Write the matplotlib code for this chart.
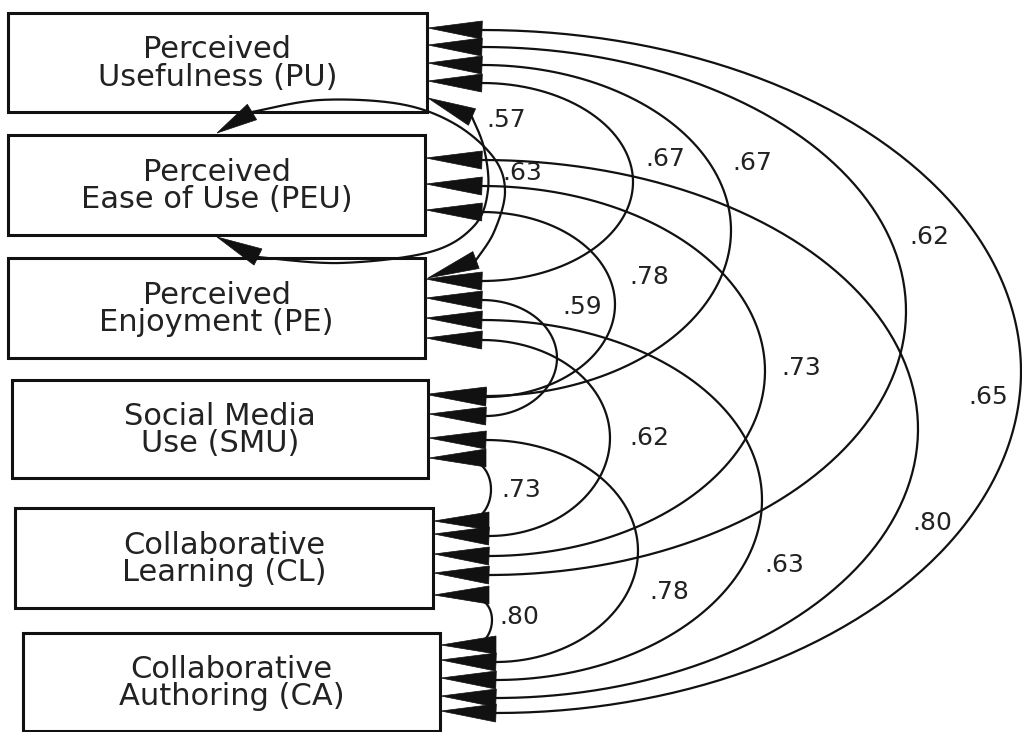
import numpy as np
import matplotlib
matplotlib.use("Agg")
import matplotlib.pyplot as plt
from matplotlib.patches import Rectangle, Polygon

# constructs, top to bottom
codes = ["PU", "PEU", "PE", "SMU", "CL", "CA"]
names = ["Perceived\nUsefulness (PU)",
         "Perceived\nEase of Use (PEU)",
         "Perceived\nEnjoyment (PE)",
         "Social Media\nUse (SMU)",
         "Collaborative\nLearning (CL)",
         "Collaborative\nAuthoring (CA)"]

# correlations
pair_a = ["PU", "PEU", "PU", "PU", "PU", "PU", "PEU", "PEU", "PEU", "PE", "PE", "PE", "SMU", "SMU", "CL"]
pair_b = ["PEU", "PE", "PE", "SMU", "CL", "CA", "SMU", "CL", "CA", "SMU", "CL", "CA", "CL", "CA", "CA"]
corr = [0.57, 0.63, 0.67, 0.67, 0.62, 0.65, 0.78, 0.73, 0.80, 0.59, 0.62, 0.63, 0.73, 0.78, 0.80]

# ---- layout (pixel coords, y down) ----
W, H = 1022, 732
box_x0 = [8, 8, 8, 12, 15, 23]
box_x1 = [427, 425, 425, 428, 433, 440]
box_y0 = [13, 135, 258, 380, 508, 633]
box_y1 = [112, 235, 358, 478, 608, 731]
base_x = [482, 482, 482, 486, 489, 496]   # where arrow bases sit

# per correlation: curve type, end slot y on a / b, rightmost x, label centre
kind = ["left", "left", "arc", "arc", "arc", "arc", "arc", "arc", "arc",
        "arc", "arc", "arc", "loop", "arc", "loop"]
slot_a = [None, None, 83, 65, 47, 30, 212, 186, 160, 300, 340, 320, 460, 440, 597]
slot_b = [None, None, 281, 396, 575, 713, 397, 556, 698, 416, 536, 680, 519, 662, 643]
peak_x = [None, None, 633, 731, 906, 1021, 615, 765, 918, 557, 610, 762, 491, 638, 492]
lab_x = [506, 522, 665, 752, 929, 988, 649, 801, 932, 582, 649, 784, 521, 669, 519]
lab_y = [120, 173, 159, 163, 237, 397, 277, 368, 523, 307, 438, 565, 490, 592, 617]

# hand drawn loops around PEU (waypoints) and their arrow tips
left_paths = [
    [(472, 117), (484, 148), (488, 190), (474, 226), (430, 252), (340, 263), (258, 257)],
    [(252, 112), (320, 100), (400, 104), (455, 124), (494, 158), (505, 192), (494, 232), (476, 260)],
]
left_tips = [((428, 98), (217, 237)), ((217, 133), (428, 278))]

LW = 1.6
INK = "#111111"


def spline(pts, n=30):
    # catmull-rom through the waypoints
    p = np.array(pts, float)
    p = np.vstack([p[0], p, p[-1]])
    out = []
    for i in range(1, len(p) - 2):
        p0, p1, p2, p3 = p[i - 1], p[i], p[i + 1], p[i + 2]
        t = np.linspace(0, 1, n)[:, None]
        seg = 0.5 * ((2 * p1) + (-p0 + p2) * t + (2 * p0 - 5 * p1 + 4 * p2 - p3) * t ** 2
                     + (-p0 + 3 * p1 - 3 * p2 + p3) * t ** 3)
        out.append(seg)
    return np.vstack(out)


def arrowhead(ax, tip, base, half=9):
    tip = np.array(tip, float)
    base = np.array(base, float)
    d = tip - base
    d = d / np.hypot(*d)
    nrm = np.array([-d[1], d[0]])
    poly = [tip, base + nrm * half, base - nrm * half]
    ax.add_patch(Polygon(poly, closed=True, facecolor=INK, edgecolor=INK, lw=0.5, zorder=5))


fig = plt.figure(figsize=(W / 100, H / 100), dpi=100)
ax = fig.add_axes([0, 0, 1, 1])
ax.set_xlim(0, W)
ax.set_ylim(H, 0)
ax.axis("off")

# boxes
for i, name in enumerate(names):
    ax.add_patch(Rectangle((box_x0[i], box_y0[i]), box_x1[i] - box_x0[i], box_y1[i] - box_y0[i],
                           facecolor="white", edgecolor=INK, lw=2.2, zorder=3))
    ax.text((box_x0[i] + box_x1[i]) / 2, (box_y0[i] + box_y1[i]) / 2 + 1, name,
            ha="center", va="center", fontsize=22, family="DejaVu Sans",
            color="#222222", linespacing=0.95, zorder=6)

left_i = 0
for k in range(len(corr)):
    ia, ib = codes.index(pair_a[k]), codes.index(pair_b[k])
    if kind[k] == "left":
        pts = left_paths[left_i]
        curve = spline(pts)
        ax.plot(curve[:, 0], curve[:, 1], color=INK, lw=LW, zorder=4)
        t1, t2 = left_tips[left_i]
        arrowhead(ax, t1, pts[0])
        arrowhead(ax, t2, pts[-1])
        left_i += 1
    else:
        ya, yb = slot_a[k], slot_b[k]
        xa, xb = base_x[ia], base_x[ib]
        if kind[k] == "loop":
            xa, xb = xa - 18, xb - 18
        t = np.linspace(0, np.pi, 200)
        x0 = xa + (xb - xa) * t / np.pi
        xs = x0 + (peak_x[k] - x0) * np.sin(t)
        ys = (ya + yb) / 2 - (yb - ya) / 2 * np.cos(t)
        ax.plot(xs, ys, color=INK, lw=LW, zorder=4)
        if kind[k] == "loop":
            arrowhead(ax, (box_x1[ia] + 1, ya - 2), (base_x[ia], ya - 2))
            arrowhead(ax, (box_x1[ib] + 1, yb + 2), (base_x[ib], yb + 2))
        else:
            arrowhead(ax, (box_x1[ia] + 1, ya - 2), (base_x[ia], ya))
            arrowhead(ax, (box_x1[ib] + 1, yb - 2), (base_x[ib], yb))
    txt = ("%.2f" % corr[k]).lstrip("0")
    ax.text(lab_x[k], lab_y[k], txt, ha="center", va="center", fontsize=18,
            family="DejaVu Sans", color="#222222", zorder=6)

fig.savefig("out.png", dpi=100, facecolor="white")
